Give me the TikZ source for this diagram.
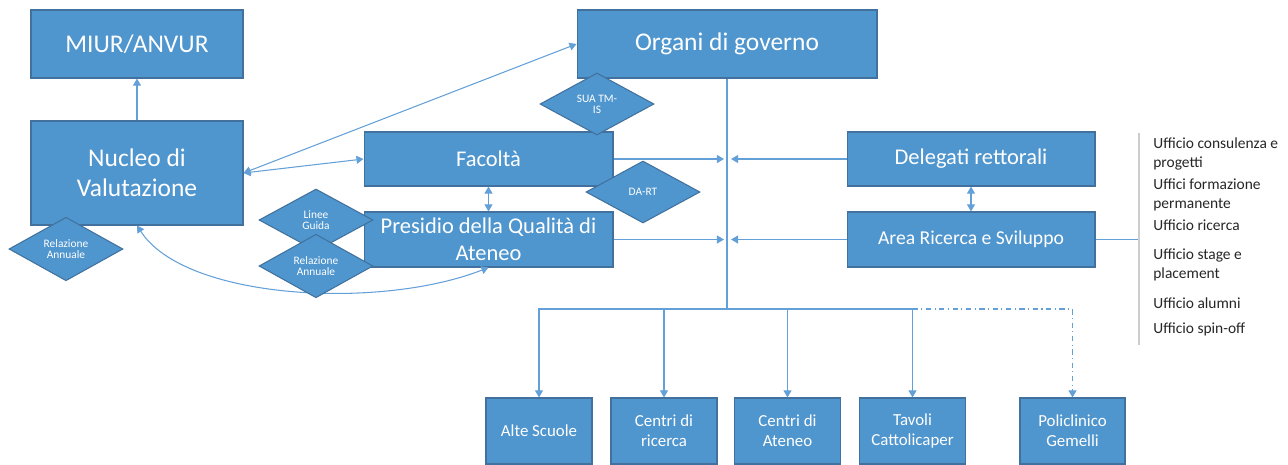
\documentclass[tikz,border=0pt]{standalone}
\usepackage{fontspec}
\setmainfont{Carlito}
\usepackage{tikz}
\usetikzlibrary{shapes.geometric,arrows.meta}

\definecolor{boxblue}{RGB}{79,149,206}
\definecolor{boxedge}{RGB}{65,113,156}
\definecolor{lineblue}{RGB}{100,160,216}
\definecolor{listgray}{RGB}{205,205,205}

\begin{document}
\begin{tikzpicture}[x=0.02cm, y=-0.02cm,
    >={Triangle[width=4.5pt,length=4pt]},
    ente/.style={draw=boxedge, fill=boxblue, text=white, line width=0.6pt, inner sep=1pt, align=center},
    rombo/.style={diamond, draw=boxedge, fill=boxblue, text=white, line width=0.6pt, inner sep=0pt,
                  minimum width=2.28cm, minimum height=1.24cm, align=center, font=\fontsize{6.5}{6.2}\selectfont},
    voce/.style={anchor=base west, align=left, inner sep=0pt, text=black!85, font=\fontsize{8.8}{10.8}\selectfont},
    link/.style={draw=lineblue, line width=0.6pt}]

      \useasboundingbox (0,0) rectangle (1288,464);

      % livello alto
      \node[ente, minimum width=4.24cm, minimum height=1.36cm, font=\fontsize{14.5}{17}\selectfont] (miur) at (137,44) {MIUR/ANVUR};
      \node[ente, minimum width=4.24cm, minimum height=2.08cm, font=\fontsize{14.5}{17}\selectfont] (nucleo) at (137,173) {Nucleo di\\Valutazione};
      \node[ente, minimum width=6cm, minimum height=1.36cm, font=\fontsize{14.5}{17}\selectfont] (organi) at (727,44) {Organi di governo};

      \node[ente, minimum width=4.98cm, minimum height=1.08cm, font=\fontsize{12.8}{15.3}\selectfont] (facolta) at (488.5,159) {Facoltà};
      \node[ente, minimum width=4.98cm, minimum height=1.1cm, font=\fontsize{12.8}{15.3}\selectfont] (presidio) at (488.5,239.5) {Presidio della Qualità di\\Ateneo};
      \node[ente, minimum width=4.96cm, minimum height=1.08cm, font=\fontsize{12.8}{15.3}\selectfont] (delegati) at (971,159) {Delegati rettorali};
      \node[ente, minimum width=4.96cm, minimum height=1.1cm, font=\fontsize{11.2}{13}\selectfont] (area) at (971,239.5) {Area Ricerca e Sviluppo};

      % strutture
      \node[ente, minimum width=2.12cm, minimum height=1.32cm, font=\fontsize{9.6}{11.3}\selectfont] (alte) at (539,431) {Alte Scuole};
      \node[ente, minimum width=2.12cm, minimum height=1.32cm, font=\fontsize{9.6}{11.3}\selectfont] (centriric) at (664,431) {Centri di\\ricerca};
      \node[ente, minimum width=2.12cm, minimum height=1.32cm, font=\fontsize{9.6}{11.3}\selectfont] (centriat) at (787.5,431) {Centri di\\Ateneo};
      \node[ente, minimum width=2.12cm, minimum height=1.32cm, font=\fontsize{9.6}{11.3}\selectfont] (tavoli) at (912.5,431) {Tavoli\\Cattolicaper};
      \node[ente, minimum width=2.1cm, minimum height=1.32cm, font=\fontsize{9.6}{11.3}\selectfont] (policlinico) at (1072.5,431) {Policlinico\\Gemelli};

      % uffici
      \node[voce] (uf1) at (1153,167) {Ufficio consulenza e\\progetti};
      \node[voce] (uf2) at (1153,208) {Uffici formazione\\permanente};
      \node[voce] (uf3) at (1153,230) {Ufficio ricerca};
      \node[voce] (uf4) at (1153,278) {Ufficio stage e\\placement};
      \node[voce] (uf5) at (1153,308) {Ufficio alumni};
      \node[voce] (uf6) at (1153,333) {Ufficio spin-off};

      \coordinate (spine) at (727,309);
      \coordinate (fin) at (724,159);
      \coordinate (din) at (731,159);
      \coordinate (pin) at (724,239.5);
      \coordinate (ain) at (731,239.5);
      \coordinate (listtop) at (1139,133);
      \coordinate (listbot) at (1139,345);

      % collegamenti
      \draw[link, ->] (nucleo) -- (miur);
      \draw[link, <->] (nucleo.east) -- (organi.west);
      \draw[link, <->] (nucleo.east) -- (facolta.west);
      \draw[link, <->] (facolta) -- (presidio);
      \draw[link, <->] (delegati) -- (area);
      \draw[link, <->] (nucleo.south) .. controls (185,300) and (380,310) .. (presidio.south);

      \draw[link] (organi.south) -- (spine);
      \draw[link, ->] (facolta.east) -- (fin);
      \draw[link, ->] (delegati.west) -- (din);
      \draw[link, ->] (presidio.east) -- (pin);
      \draw[link, ->] (area.west) -- (ain);
      \draw[link] (area.east) -- (area.east -| listtop);
      \draw[listgray, line width=0.6pt] (listtop) -- (listbot);

      \draw[link, ->] (spine) -| (alte.north);
      \draw[link, ->] (spine) -| (centriric.north);
      \draw[link, ->] (spine) -| (centriat.north);
      \draw[link, ->] (spine) -| (tavoli.north);
      \draw[link, ->, dash dot] (tavoli.north |- spine) -| (policlinico.north);

      % documenti
      \node[rombo] (relnuc) at (66,249) {Relazione\\Annuale};
      \node[rombo] (linee) at (316,220) {Linee\\Guida};
      \node[rombo] (relpres) at (316,266) {Relazione\\Annuale};
      \node[rombo] (sua) at (597,104) {SUA TM-\\IS};
      \node[rombo] (dart) at (643,192) {DA-RT};

\end{tikzpicture}
\end{document}
